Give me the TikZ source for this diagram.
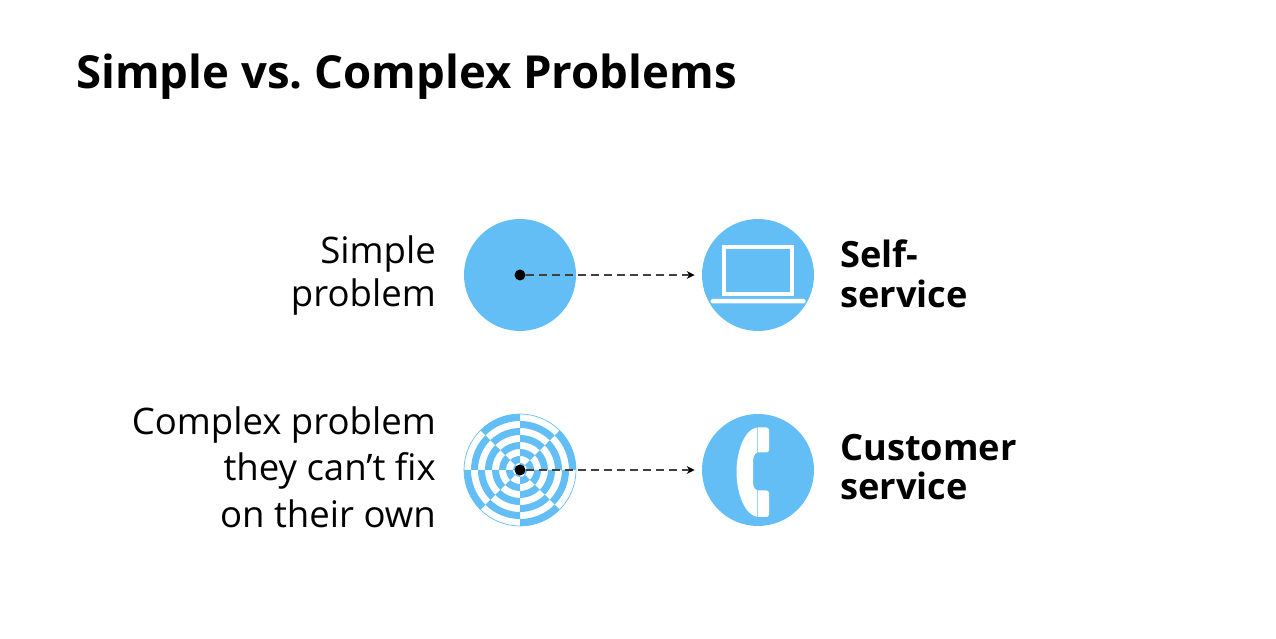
\documentclass[tikz,border=0pt]{standalone}
\usepackage{fontspec}
\setmainfont{Open Sans}
\usetikzlibrary{arrows.meta}
\definecolor{skyblue}{HTML}{62BEF4}
\tikzset{
  disc/.style={circle,fill=skyblue,minimum size=2.24cm,inner sep=0pt},
  dot/.style={circle,fill=black,minimum size=0.22cm,inner sep=0pt},
  link/.style={draw=black!75,line width=0.85pt,dash pattern=on 4.4pt off 3pt,-{Stealth[length=4.5pt,width=4.5pt,black]},shorten >=0.14cm},
  leftlabel/.style={anchor=east,align=right,font=\fontsize{20.8}{26.4}\selectfont},
  rightlabel/.style={anchor=west,align=left,font=\fontsize{20.6}{22.5}\selectfont\bfseries},
}
\begin{document}
\begin{tikzpicture}
    \useasboundingbox (0,0) rectangle (25.52,12.76);

    \node[anchor=west,font=\fontsize{25.9}{30}\selectfont\bfseries] (title) at (1.4,11.22) {Simple vs.\ Complex Problems};

    % left column
    \node[leftlabel,font=\fontsize{20.8}{25}\selectfont] (simplelabel) at (8.84,7.25) {Simple\\problem};
    \node[leftlabel] (complexlabel) at (8.84,3.42) {Complex problem\\they can’t fix\\on their own};

    % simple problem
    \node[disc] (simple) at (10.4,7.26) {};

    % complex problem, rings flip from one sector to the next
    \coordinate (complex) at (10.4,3.36);
    \begin{scope}[shift={(complex)}]
        \draw[skyblue,line width=0.4pt] (0,0) circle [radius=1.12];
        \foreach \a in {0,90,180,270} {
            \foreach \r in {1.12,0.84,0.56,0.28} {
                \fill[skyblue] (\a:\r) arc [start angle=\a,delta angle=45,radius=\r]
                    -- ({\a+45}:\r-0.14) arc [start angle=\a+45,delta angle=-45,radius=\r-0.14] -- cycle;
                \fill[skyblue] ({\a+45}:\r-0.14) arc [start angle=\a+45,delta angle=45,radius=\r-0.14]
                    -- ({\a+90}:\r-0.28) arc [start angle=\a+90,delta angle=-45,radius=\r-0.28] -- cycle;
            }
        }
    \end{scope}

    \node[dot] (dotsimple) at (simple) {};
    \node[dot] (dotcomplex) at (complex) {};

    % laptop
    \node[disc] (laptop) at (15.16,7.26) {};
    \draw[white,line width=0.08cm] (14.47,6.87) rectangle (15.84,7.81);
    \fill[white,rounded corners=0.03cm] (14.21,6.69) rectangle (16.11,6.78);

    % phone
    \node[disc] (phone) at (15.16,3.36) {};
    \begin{scope}[shift={(phone.center)}]
        \fill[white] (-0.015,0.85) .. controls (-0.28,0.82) and (-0.43,0.35) .. (-0.43,-0.03)
            .. controls (-0.43,-0.5) and (-0.25,-0.9) .. (-0.015,-0.94)
            -- (-0.015,-0.41) .. controls (-0.1,-0.36) and (-0.1,-0.3) .. (-0.1,-0.2)
            -- (-0.1,0.15) .. controls (-0.1,0.25) and (-0.08,0.32) .. (-0.015,0.35) -- cycle;
        \fill[white] (0,0.85) [rounded corners=0.05cm] -- (0.22,0.85) -- (0.22,0.35) [sharp corners] -- (0,0.35) -- cycle;
        \fill[white] (0,-0.41) [rounded corners=0.05cm] -- (0.22,-0.41) -- (0.22,-0.94) [sharp corners] -- (0,-0.94) -- cycle;
    \end{scope}

    % right column
    \node[rightlabel] (selflabel) at (16.68,7.28) {Self-\\service};
    \node[rightlabel] (customerlabel) at (16.68,3.42) {Customer\\service};

    \draw[link] (dotsimple) -- (laptop);
    \draw[link] (dotcomplex) -- (phone);
\end{tikzpicture}
\end{document}
